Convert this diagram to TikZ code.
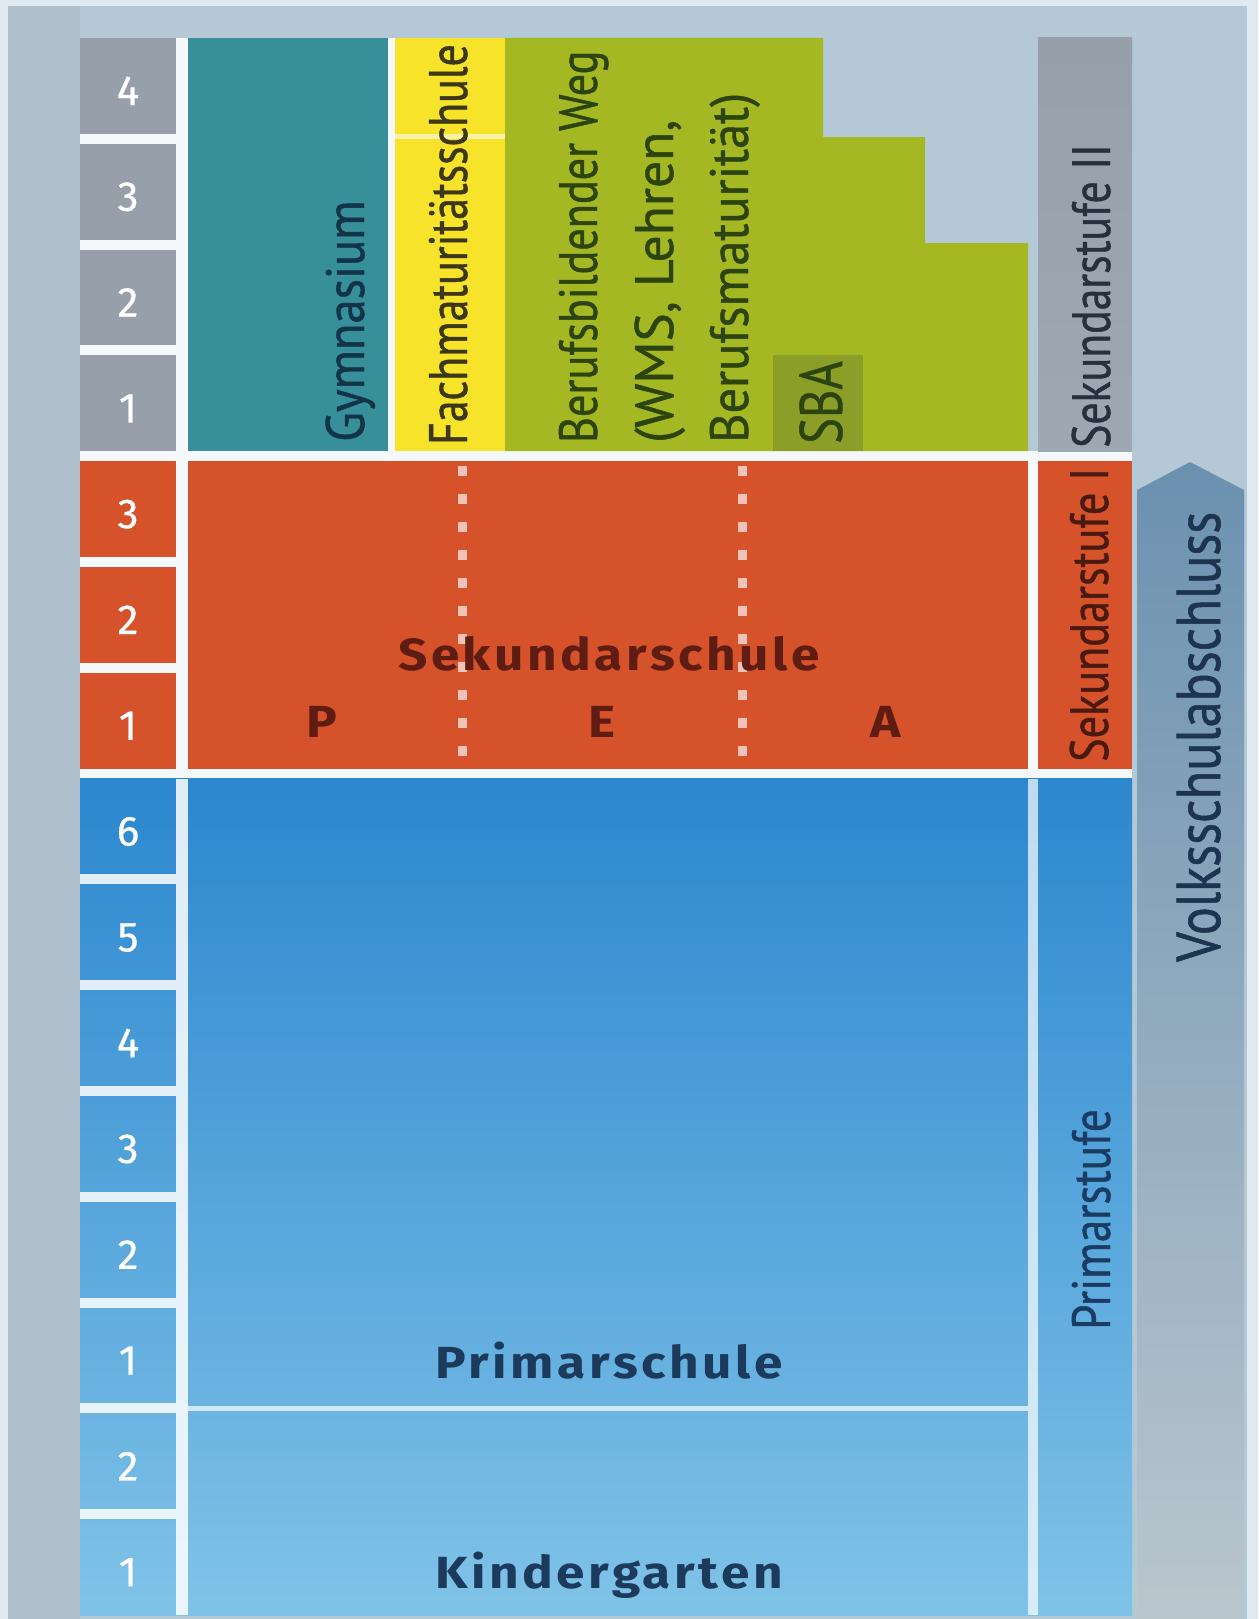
\documentclass[tikz,border=0pt]{standalone}
\usepackage{graphicx}
\usepackage{fontspec}
\newfontfamily\condfont{PT Sans}[FakeStretch=0.81, FakeBold=0.8]
\newfontfamily\labfont{Fira Sans}[LetterSpace=8, FakeStretch=1.14]
\newfontfamily\numfont{Fira Sans}[FakeBold=0.6]
\definecolor{outerbg}{HTML}{E0EAF0}
\definecolor{panelbg}{HTML}{B5C8D5}
\definecolor{panelleft}{HTML}{AFBFCB}
\definecolor{gapwhite}{HTML}{F4F8FB}
\definecolor{greycell}{HTML}{97A0AA}
\definecolor{teal}{HTML}{378F9A}
\definecolor{yellowc}{HTML}{F6E32A}
\definecolor{yellowline}{HTML}{FAF1A8}
\definecolor{greenc}{HTML}{A3B822}
\definecolor{sbac}{HTML}{8B9F28}
\definecolor{sekIIbar}{HTML}{9DA8B3}
\definecolor{redc}{HTML}{D5522B}
\definecolor{bluetop}{HTML}{2C87CF}
\definecolor{bluemid}{HTML}{42A3DC}
\definecolor{bluebot}{HTML}{80C3E8}
\definecolor{arrowtop}{HTML}{6B91B0}
\definecolor{arrowbot}{HTML}{BAC6CE}
\definecolor{dotc}{HTML}{F2C3B8}
\definecolor{gymtext}{HTML}{123449}
\definecolor{fachtext}{HTML}{3B3718}
\definecolor{beruftext}{HTML}{2E4410}
\definecolor{sekIItext}{HTML}{27303C}
\definecolor{sekItext}{HTML}{4A1A10}
\definecolor{primtext}{HTML}{1A3C63}
\definecolor{arrowtext}{HTML}{1D3450}
\definecolor{sektext}{HTML}{5E1C12}
\definecolor{bluetext}{HTML}{1B3A5C}
\tikzset{
  rot/.style={rotate=90, anchor=base west, inner sep=0pt, font=\condfont\fontsize{54}{60}\selectfont},
  hlab/.style={anchor=base, inner sep=0pt, font=\labfont\bfseries\fontsize{45}{52}\selectfont},
  gradenum/.style={anchor=base, inner sep=0pt, text=white, font=\numfont\fontsize{42}{48}\selectfont},
  dotline/.style={draw=dotc, line width=9pt, dash pattern=on 10pt off 18pt},
}
\begin{document}
\begin{tikzpicture}[x=1pt,y=-1pt]
\useasboundingbox (0,0) rectangle (1258,1619);
% background
\fill[outerbg] (0,0) rectangle (1258,1619);
\fill[panelbg] (8,6) rectangle (1247,1619);
\fill[panelleft] (8,6) rectangle (80,1619);
% white base
\fill[gapwhite] (80,38) rectangle (188,1615);
\fill[gapwhite] (188,451.2) rectangle (1132,1615);
\fill[gapwhite] (388,38) rectangle (395,451.2);
% grade cells grey and red
\foreach \k/\n in {0/4,1/3,2/2,3/1} {
  \pgfmathsetmacro\t{38+105.8*\k}
  \pgfmathsetmacro\b{\t+95.8}
  \fill[greycell] (80,\t) rectangle (176,\b);
}
\foreach \k/\n in {4/3,5/2,6/1} {
  \pgfmathsetmacro\t{38+105.8*\k}
  \pgfmathsetmacro\b{\t+95.8}
  \fill[redc] (80,\t) rectangle (176,\b);
}
% Sekundarstufe II
\fill[teal] (188,38) rectangle (388,451.2);
\fill[yellowc] (395,38) rectangle (505,451.2);
\fill[yellowline] (395,134) rectangle (505,139);
\fill[greenc] (505,38) -- (823,38) -- (823,137) -- (925,137) -- (925,243) -- (1028,243) -- (1028,451.2) -- (505,451.2) -- cycle;
\fill[sbac] (773,355) rectangle (863,451.2);
\shade[top color=greycell, bottom color=sekIIbar] (1038,38) rectangle (1132,451.2);
% Sekundarstufe I
\fill[redc] (188,461.2) rectangle (1028,768.6);
\fill[redc] (1038,461.2) rectangle (1132,768.6);
\draw[dotline] (462,466) -- (462,768.6);
\draw[dotline] (742,466) -- (742,768.6);
% Primarstufe
\shade[top color=bluetop, middle color=bluemid, bottom color=bluebot] (80,778.6) rectangle (1132,1615);
\fill[white, opacity=0.85] (176,778.6) rectangle (188,1615);
\fill[white, opacity=0.7] (1028,778.6) rectangle (1038,1615);
\foreach \k in {7,...,13} {
  \pgfmathsetmacro\b{38+105.8*\k+95.8}
  \pgfmathsetmacro\tn{38+105.8*(\k+1)}
  \fill[white, opacity=0.85] (80,\b) rectangle (176,\tn);
}
\fill[white, opacity=0.7] (188,1406) rectangle (1028,1411);
% arrow
\shade[top color=arrowtop, bottom color=arrowbot] (1137,490) -- (1190,462) -- (1244,490) -- (1244,1619) -- (1137,1619) -- cycle;
% grade numbers
\foreach \k/\n in {0/4,1/3,2/2,3/1,4/3,5/2,6/1,7/6,8/5,9/4,10/3,11/2,12/1,13/2,14/1} {
  \pgfmathsetmacro\t{38+105.8*\k}
  \node[gradenum] (g\k) at (128,{\t+67}) {\n};
}
% rotated labels
\node[rot, text=gymtext] (gym) at (364,442) {\scalebox{1.11}[1]{Gymnasium}};
\node[rot, text=fachtext] (fach) at (467,445) {Fachmaturitätsschule};
\node[rot, text=beruftext] (ber1) at (597,443) {\scalebox{1.01}[1]{Berufsbildender Weg}};
\node[rot, text=beruftext] (ber2) at (673,443) {\scalebox{1.22}[1]{(WMS, Lehren,}};
\node[rot, text=beruftext] (ber3) at (748,443) {\scalebox{1.15}[1]{Berufsmaturität)}};
\node[rot, text=beruftext, font=\condfont\fontsize{60}{66}\selectfont] (sba) at (842,444) {SBA};
\node[rot, text=sekIItext] (sek2) at (1110,448) {Sekundarstufe II};
\node[rot, text=sekItext] (sek1) at (1108,762) {\scalebox{1.01}[1]{Sekundarstufe I}};
\node[rot, text=primtext] (prim) at (1110,1330) {\scalebox{1.03}[1]{Primarstufe}};
\node[rot, text=arrowtext, font=\condfont\fontsize{62}{68}\selectfont] (volk) at (1220,962) {\scalebox{1.04}[1]{Volksschulabschluss}};
% horizontal labels
\node[hlab, text=sektext] (seks) at (609,670) {Sekundarschule};
\node[hlab, text=sektext] (lp) at (322,737) {P};
\node[hlab, text=sektext] (le) at (602,737) {E};
\node[hlab, text=sektext] (la) at (886,737) {A};
\node[hlab, text=bluetext] (prims) at (609,1378) {Primarschule};
\node[hlab, text=bluetext] (kind) at (609,1588) {Kindergarten};
\end{tikzpicture}
\end{document}
